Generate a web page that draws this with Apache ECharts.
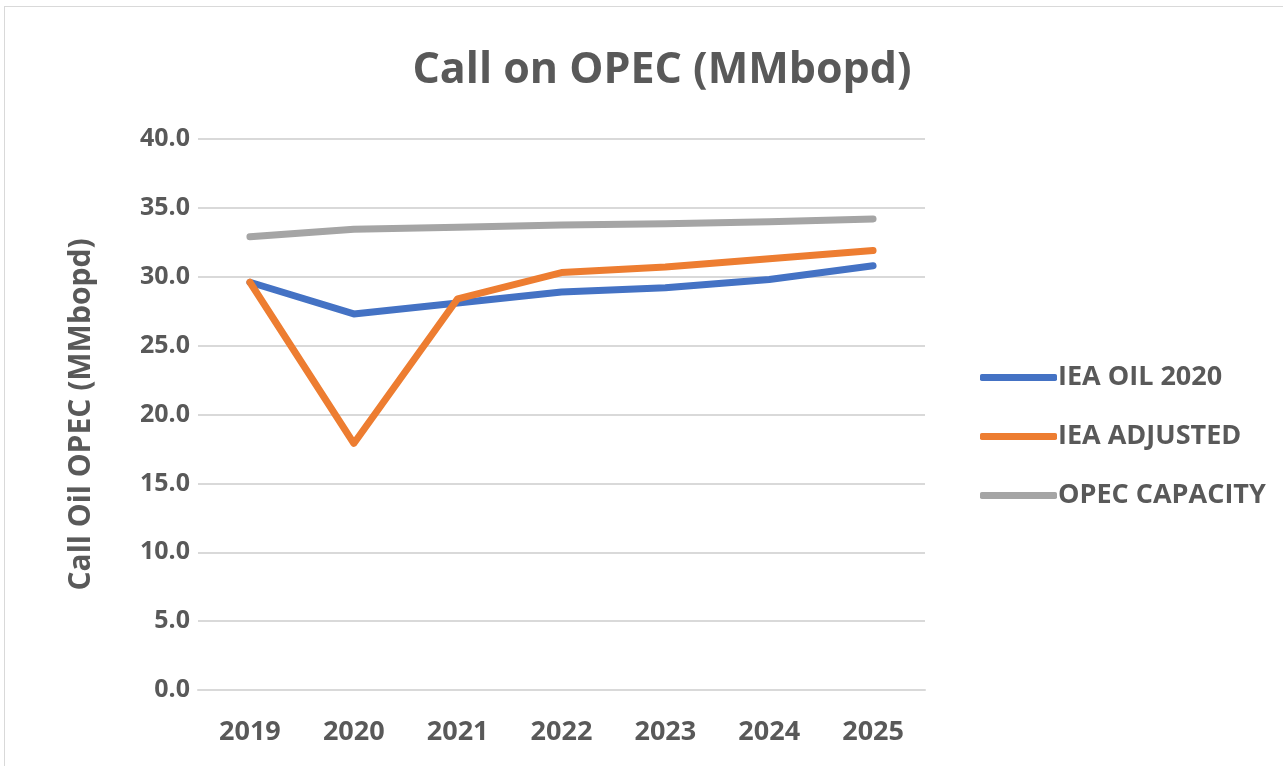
<!DOCTYPE html>
<html>
<head>
<meta charset="utf-8">
<script src="https://cdn.jsdelivr.net/npm/echarts@6/dist/echarts.min.js"></script>
<style>
html,body{margin:0;padding:0;background:#fff;}
#frame{position:absolute;left:4px;top:6px;width:1290px;height:770px;border:1px solid #d9d9d9;box-sizing:border-box;}
#main{position:absolute;left:0;top:0;width:1283px;height:766px;}
</style>
</head>
<body>
<div id="frame"></div>
<div id="main"></div>
<script>
var years = ['2019','2020','2021','2022','2023','2024','2025'];
var ieaOil2020 = [29.6, 27.3, 28.1, 28.9, 29.2, 29.8, 30.8];
var ieaAdjusted = [29.6, 17.9, 28.4, 30.3, 30.7, 31.3, 31.9];
var opecCapacity = [32.9, 33.45, 33.6, 33.75, 33.85, 34.0, 34.2];

var grey = '#595959';
var font = 'Open Sans';

var chart = echarts.init(document.getElementById('main'));

function line(name, data, color){
	return {
		name: name,
		type: 'line',
		data: data,
		symbol: 'none',
		lineStyle: {width: 7, color: color, cap: 'round', join: 'round'},
		itemStyle: {color: color}
	};
}

var option = {
	backgroundColor: 'transparent',
	animation: false,
	title: {
		text: 'Call on OPEC (MMbopd)',
		left: 657, top: 44, textAlign: 'center',
		textStyle: {fontFamily: font, fontSize: 43, fontWeight: 'bold', color: grey}
	},
	legend: {
		orient: 'vertical',
		left: 975, top: 359,
		itemWidth: 77, itemHeight: 7, itemGap: 32,
		icon: 'roundRect',
		textStyle: {fontFamily: font, fontSize: 27, fontWeight: 'bold', color: grey, padding: [0,0,0,-4]}
	},
	grid: {left: 198, right: 358, top: 139, bottom: 76},
	xAxis: {
		type: 'category',
		data: years,
		axisLine: {lineStyle: {color: '#d9d9d9', width: 2}},
		axisTick: {show: false},
		axisLabel: {fontFamily: font, fontSize: 27, fontWeight: 'bold', color: grey, margin: 29}
	},
	yAxis: {
		type: 'value',
		min: 0, max: 40, interval: 5,
		name: 'Call Oil OPEC (MMbopd)',
		nameLocation: 'middle',
		nameGap: 102,
		nameTextStyle: {fontFamily: font, fontSize: 30, fontWeight: 'bold', color: grey},
		axisLine: {show: false},
		axisTick: {show: false},
		splitLine: {lineStyle: {color: '#d9d9d9', width: 2}},
		axisLabel: {fontFamily: font, fontSize: 25, fontWeight: 'bold', color: grey, margin: 8,
			formatter: function(v){ return v.toFixed(1); }}
	},
	series: [
		line('IEA OIL 2020', ieaOil2020, '#4472C4'),
		line('IEA ADJUSTED', ieaAdjusted, '#ED7D31'),
		line('OPEC CAPACITY', opecCapacity, '#A5A5A5')
	]
};

chart.setOption(option);
</script>
</body>
</html>
